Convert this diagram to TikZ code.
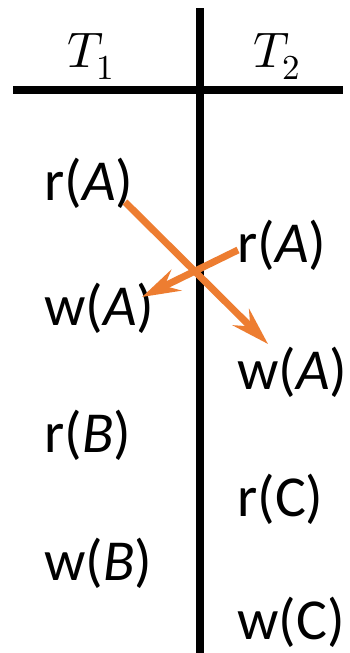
\documentclass[tikz,border=0pt]{standalone}
\usepackage{fontspec}
\usepackage{unicode-math}
\setmainfont{Carlito}
\setmathfont{Latin Modern Math}
\usetikzlibrary{arrows.meta}
\definecolor{orng}{HTML}{ED7D31}
\begin{document}
\begin{tikzpicture}[x=1pt,y=-1pt,
  op/.style={font=\fontsize{58}{62}\selectfont, inner sep=0pt, anchor=base west},
  hd/.style={font=\fontsize{50}{55}\selectfont, inner sep=0pt, anchor=base},
  rule/.style={line width=7.5pt},
  conf/.style={draw=orng, line width=7pt, -{Stealth[length=38pt,width=23pt,inset=13pt]}}]
\useasboundingbox (0,0) rectangle (349,653);
\fill[white] (0,0) rectangle (349,653);
% rules
\coordinate (vtop) at (200,8);
\coordinate (vbot) at (200,653);
\coordinate (hl) at (13,90);
\coordinate (hr) at (343,90);
\draw[rule] (vtop) -- (vbot);
\draw[rule] (hl) -- (hr);
% headers
\node[hd] (T1) at (91,67) {$T_1$};
\node[hd] (T2) at (277,67) {$T_2$};
% operations
\node[op] (rA1) at (44,200) {r(\textit{A})};
\node[op] (rA2) at (237,262) {r(\textit{A})};
\node[op] (wA1) at (44,325) {w(\textit{A})};
\node[op] (wA2) at (237,389) {w(\textit{A})};
\node[op] (rB1) at (44,452) {r(\textit{B})};
\node[op] (rC2) at (237,516) {r(C)};
\node[op] (wB1) at (44,580) {w(\textit{B})};
\node[op] (wC2) at (237,639) {w(C)};
% conflict arrows
\coordinate (s1) at (125,202);
\coordinate (e1) at (268,344);
\coordinate (s2) at (238,250);
\coordinate (e2) at (142,297);
\draw[conf] (s1) -- (e1);
\draw[conf] (s2) -- (e2);
\end{tikzpicture}
\end{document}
